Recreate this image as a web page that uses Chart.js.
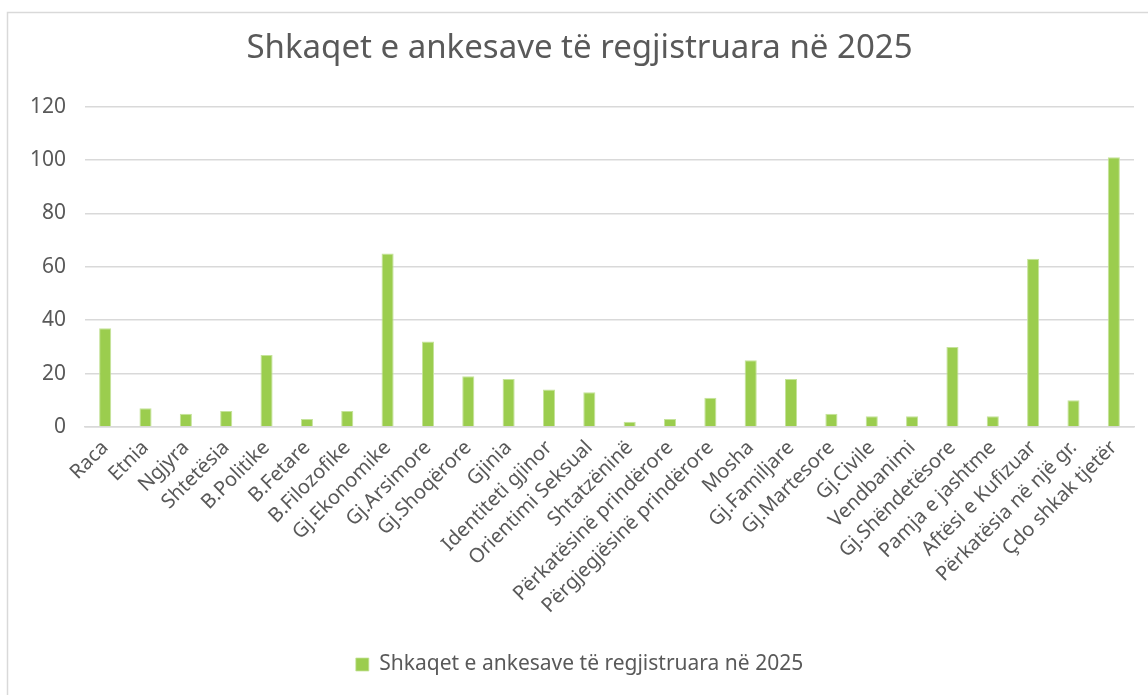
<!DOCTYPE html>
<html>
<head>
<meta charset="utf-8">
<script src="https://cdn.jsdelivr.net/npm/chart.js@4"></script>
<style>
  html, body { margin: 0; padding: 0; background: #fff; }
  #wrap { width: 1148px; height: 695px; }
</style>
</head>
<body>
<div id="wrap"><canvas id="ankesatChart" width="1148" height="695"></canvas></div>
<script>
const categories = [
  "Raca", "Etnia", "Ngjyra", "Shtetësia", "B.Politike", "B.Fetare", "B.Filozofike",
  "Gj.Ekonomike", "Gj.Arsimore", "Gj.Shoqërore", "Gjinia", "Identiteti gjinor",
  "Orientimi Seksual", "Shtatzëninë", "Përkatësinë prindërore", "Përgjegjësinë prindërore",
  "Mosha", "Gj.Familjare", "Gj.Martesore", "Gj.Civile", "Vendbanimi", "Gj.Shëndetësore",
  "Pamja e jashtme", "Aftësi e Kufizuar", "Përkatësia në një gr.", "Çdo shkak tjetër"
];
const ankesat2025 = [37, 7, 5, 6, 27, 3, 6, 65, 32, 19, 18, 14, 13, 2, 3, 11, 25, 18, 5, 4, 4, 30, 4, 63, 10, 101];
const seriesLabel = "Shkaqet e ankesave të regjistruara në 2025";
const titleText = "Shkaqet e ankesave të regjistruara në 2025";

const textColor = "#595959";
const gridColor = "#d9d9d9";
const fontFamily = "'Noto Sans', 'DejaVu Sans', sans-serif";

// outer frame like the Excel chart area border
const framePlugin = {
  id: "frame",
  beforeDraw(chart) {
    const c = chart.ctx;
    c.save();
    c.strokeStyle = gridColor;
    c.lineWidth = 1.5;
    c.beginPath();
    c.moveTo(7.5, chart.height + 5);
    c.lineTo(7.5, 12.5);
    c.lineTo(chart.width + 5, 12.5);
    c.stroke();
    c.restore();
  },
};

const ctx = document.getElementById("ankesatChart").getContext("2d");
const chart = new Chart(ctx, {
  type: "bar",
  data: {
    labels: categories,
    datasets: [
      {
        label: seriesLabel,
        data: ankesat2025,
        backgroundColor: "#9bcd4e",
        borderColor: "#c5e39a",
        borderWidth: { top: 1, left: 1, right: 1, bottom: 0 },
        barPercentage: 0.6,
        categoryPercentage: 0.5,
      },
    ],
  },
  options: {
    responsive: false,
    animation: false,
    // a bit more left padding so title/legend sit closer to the Excel box centre
    layout: { padding: { left: 25, right: 14, top: 18, bottom: 10 } },
    plugins: {
      title: {
        display: true,
        text: titleText,
        color: textColor,
        font: { family: fontFamily, size: 33, weight: "normal" },
        padding: { top: 11, bottom: 38 },
      },
      legend: {
        position: "bottom",
        labels: {
          color: textColor,
          font: { family: fontFamily, size: 21 },
          boxWidth: 13,
          boxHeight: 13,
          padding: 6,
        },
      },
      tooltip: { enabled: false },
    },
    scales: {
      x: {
        grid: { display: false, drawTicks: false },
        border: { color: gridColor, width: 1.5 },
        ticks: {
          color: textColor,
          font: { family: fontFamily, size: 20 },
          minRotation: 45,
          maxRotation: 45,
          autoSkip: false,
          padding: 9,
        },
        afterFit(scale) { scale.height = 221; },
      },
      y: {
        min: 0,
        max: 120,
        ticks: {
          stepSize: 20,
          color: textColor,
          font: { family: fontFamily, size: 21 },
          padding: 19,
        },
        grid: { color: gridColor, lineWidth: 1.5, drawTicks: false },
        border: { display: false },
        afterFit(scale) { scale.width = 60; },
      },
    },
  },
  plugins: [framePlugin],
});
</script>
</body>
</html>
